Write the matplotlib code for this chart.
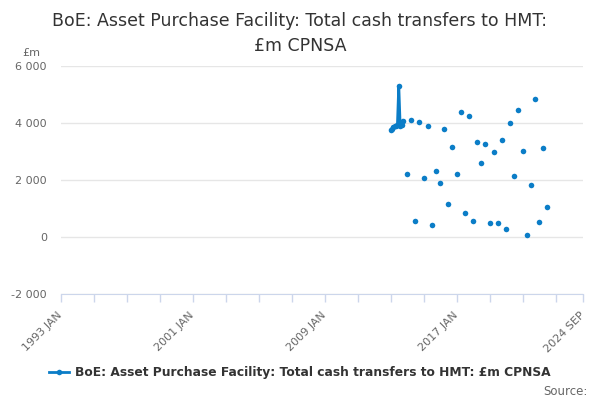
import numpy as np
import pandas as pd
import matplotlib
matplotlib.use("Agg")
import matplotlib.pyplot as plt

# ----------------------------------
# Data
# ----------------------------------
# monthly run in 2013
monthly_start = "2013-01-01"
monthly_values = [3760, 3780, 3870, 3880, 3900, 3920, 5310, 3880, 3940, 4090]

# quarterly transfers Jan 2014 .. Jul 2022
quarterly_start = "2014-01-01"
quarterly_values = [2229, 4099, 560, 4040, 2078, 3900, 441, 2323, 1914, 3795,
                    1167, 3153, 2218, 4390, 841, 4240, 582, 3350, 2593, 3269,
                    501, 3000, 491, 3409, 291, 4005, 2148, 4471, 3035, 70,
                    1833, 4856, 526, 3118, 1072]

series_name = "BoE: Asset Purchase Facility: Total cash transfers to HMT: £m CPNSA"
title = "BoE: Asset Purchase Facility: Total cash transfers to HMT:\n£m CPNSA"

x_label_ticks = ["1993-01-01", "2001-01-01", "2009-01-01", "2017-01-01", "2024-09-01"]
x_label_text = ["1993 JAN", "2001 JAN", "2009 JAN", "2017 JAN", "2024 SEP"]
y_ticks = [-2000, 0, 2000, 4000, 6000]

# ----------------------------------
# Build the monthly series (gaps as NaN)
# ----------------------------------
q_dates = pd.date_range(quarterly_start, periods=len(quarterly_values), freq="3MS")
m_dates = pd.date_range(monthly_start, periods=len(monthly_values), freq="MS")
idx = pd.date_range(monthly_start, q_dates[-1], freq="MS")
s = pd.Series(np.nan, index=idx)
s[m_dates] = monthly_values
s[q_dates] = quarterly_values

# ----------------------------------
# Plot
# ----------------------------------
blue = "#0b7dc7"
grey_txt = "#666666"
axis_col = "#ccd6eb"

fig = plt.figure(figsize=(6, 4), dpi=100)
ax = fig.add_axes([0.1012, 0.2643, 0.8705, 0.5707])

ax.plot(s.index, s.values, color=blue, linewidth=2, marker="o",
        markersize=4, markeredgewidth=0, label=series_name)

ax.set_xlim(pd.Timestamp("1993-01-01"), pd.Timestamp("2024-09-01"))
ax.set_ylim(-2000, 6000)

minor = [pd.Timestamp(f"{y}-01-01") for y in range(1993, 2024, 2)] + [pd.Timestamp("2024-09-01")]
ax.set_xticks(minor, minor=True)
ax.set_xticks([pd.Timestamp(d) for d in x_label_ticks])
ax.set_xticklabels(x_label_text, rotation=45, ha="right", va="center",
                   rotation_mode="anchor", color=grey_txt, fontsize=8)
ax.tick_params(axis="x", which="both", length=6, color=axis_col, width=1, pad=8)

ax.set_yticks(y_ticks)
ax.set_yticklabels([f"{v:,}".replace(",", " ") for v in y_ticks], color=grey_txt, fontsize=8)
ax.tick_params(axis="y", length=0, pad=10)
ax.grid(axis="y", color="#e6e6e6", linewidth=1)
ax.set_axisbelow(True)

for side in ["top", "right", "left"]:
    ax.spines[side].set_visible(False)
ax.spines["bottom"].set_color(axis_col)

fig.text(0.5, 0.917, title, ha="center", va="center", fontsize=12.5,
         color="#333333", linespacing=1.5)
fig.text(0.037, 0.868, "£m", fontsize=8, color=grey_txt, va="center")

leg = fig.legend(loc="center", bbox_to_anchor=(0.5, 0.068), frameon=False,
                 handlelength=1.6, handletextpad=0.5, fontsize=8.8)
for t in leg.get_texts():
    t.set_color("#333333")
    t.set_fontweight("bold")
fig.text(0.98, 0.022, "Source:", ha="right", va="center", fontsize=8.5, color=grey_txt)

fig.savefig("out.png", dpi=100)
